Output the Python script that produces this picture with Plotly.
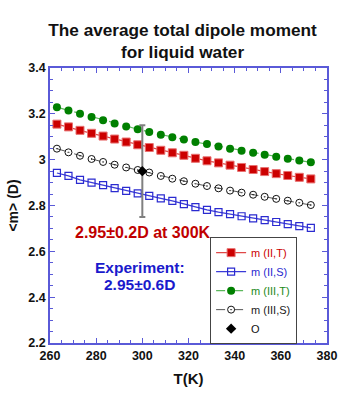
import plotly.graph_objects as go

T = [263 + 5 * i for i in range(23)]

m_II_T = [3.155, 3.143, 3.128, 3.115, 3.103, 3.090, 3.077, 3.065, 3.053, 3.041, 3.030, 3.019,
          3.006, 2.995, 2.986, 2.976, 2.966, 2.957, 2.948, 2.939, 2.931, 2.923, 2.916]
m_II_S = [2.942, 2.929, 2.912, 2.900, 2.889, 2.876, 2.864, 2.853, 2.842, 2.831, 2.820, 2.806,
          2.793, 2.781, 2.771, 2.762, 2.753, 2.744, 2.736, 2.728, 2.719, 2.710, 2.702]
m_III_T = [3.229, 3.215, 3.200, 3.186, 3.172, 3.158, 3.145, 3.133, 3.121, 3.109, 3.098, 3.088,
           3.077, 3.068, 3.058, 3.048, 3.039, 3.030, 3.021, 3.013, 3.004, 2.996, 2.989]
m_III_S = [3.048, 3.032, 3.017, 3.003, 2.990, 2.978, 2.966, 2.955, 2.944, 2.929, 2.917, 2.906,
           2.895, 2.885, 2.875, 2.865, 2.856, 2.847, 2.838, 2.829, 2.821, 2.812, 2.802]

exp_T = [300]
exp_m = [2.95]
exp_err = [0.2]

FONT = "Liberation Sans"
AXC = "#5a5ad8"

fig = go.Figure()

fig.add_trace(go.Scatter(
    x=T, y=m_II_T, mode="lines+markers",
    name="<span style='color:#cc0000'>m (II,T)</span>",
    line=dict(color="#e04848", width=1.2),
    marker=dict(symbol="square", size=8, color="#cc0000", line=dict(color="#e87070", width=1)),
))
fig.add_trace(go.Scatter(
    x=T, y=m_II_S, mode="lines+markers",
    name="<span style='color:#2a2ad0'>m (II,S)</span>",
    line=dict(color="#3a3ad8", width=1.2),
    marker=dict(symbol="square-open", size=7, color="#2a2ad0", line=dict(width=1.2)),
))
fig.add_trace(go.Scatter(
    x=T, y=m_III_T, mode="lines+markers",
    name="<span style='color:#1a8a1a'>m (III,T)</span>",
    line=dict(color="#5cb85c", width=1.2, dash="dash"),
    marker=dict(symbol="circle", size=8, color="#008000"),
))
fig.add_trace(go.Scatter(
    x=T, y=m_III_S, mode="lines+markers",
    name="<span style='color:#222222'>m (III,S)</span>",
    line=dict(color="#555555", width=1, dash="dash"),
    marker=dict(symbol="circle-open-dot", size=7, color="#111111", line=dict(width=1)),
))
fig.add_trace(go.Scatter(
    x=exp_T, y=exp_m, mode="markers",
    name="<span style='color:#111111'>O</span>",
    marker=dict(symbol="diamond", size=8, color="#000000"),
    error_y=dict(type="data", array=exp_err, visible=True, color="#808080", thickness=2, width=3),
))

fig.add_annotation(x=300.3, y=2.684, xref="x", yref="y", showarrow=False,
                   text="2.95±0.2D at 300K",
                   font=dict(family=FONT, size=16, color="#c00000", weight="bold"))
fig.add_annotation(x=298.8, y=2.530, xref="x", yref="y", showarrow=False,
                   text="Experiment:",
                   font=dict(family=FONT, size=15.5, color="#1a1acc", weight="bold"))
fig.add_annotation(x=298.8, y=2.456, xref="x", yref="y", showarrow=False,
                   text="2.95±0.6D",
                   font=dict(family=FONT, size=15.5, color="#1a1acc", weight="bold"))

axis_common = dict(
    showline=True, linecolor=AXC, linewidth=1.5, mirror="allticks",
    ticks="inside", tickcolor=AXC, ticklen=5, tickwidth=1.2,
    showgrid=False, zeroline=False, automargin=False,
    tickfont=dict(family=FONT, size=12.5, color="#111111", weight="bold"),
)

fig.update_xaxes(
    range=[260, 380], dtick=20, tick0=260,
    minor=dict(dtick=5, ticks="inside", ticklen=3, tickcolor=AXC, showgrid=False),
    title=dict(text="T(K)", font=dict(family=FONT, size=15, color="#111111", weight="bold"), standoff=12),
    **axis_common,
)
fig.update_yaxes(
    range=[2.2, 3.4], dtick=0.2, tick0=2.2,
    minor=dict(dtick=0.05, ticks="inside", ticklen=3, tickcolor=AXC, showgrid=False),
    title=dict(text="&lt;m&gt; (D)", font=dict(family=FONT, size=14, color="#111111", weight="bold"), standoff=6),
    **axis_common,
)

fig.update_layout(
    width=360, height=395,
    margin=dict(l=50, r=33, t=68, b=52),
    paper_bgcolor="white", plot_bgcolor="white",
    title=dict(text="The average total dipole moment<br>for liquid water",
               x=0.507, xanchor="center", xref="container",
               y=0.909, yanchor="top", yref="container",
               font=dict(family=FONT, size=17.2, color="#111111", weight="bold")),
    legend=dict(x=0.578, y=0.385, xanchor="left", yanchor="top",
                bordercolor="#444444", borderwidth=1, bgcolor="white",
                font=dict(family=FONT, size=11), itemwidth=30,
                tracegroupgap=0),
    showlegend=True,
)

fig.write_html("out.html", config={"displayModeBar": False},
               post_script="document.body.style.margin='0px';document.body.style.padding='0px';")
